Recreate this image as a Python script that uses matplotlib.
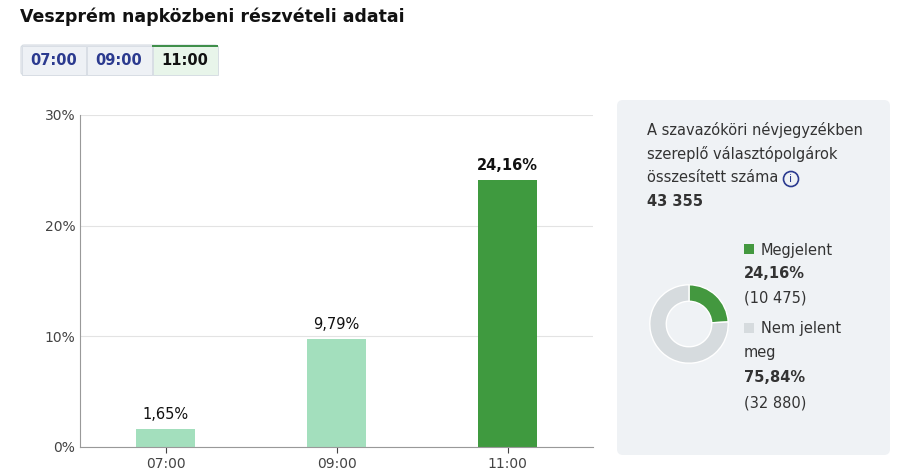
import matplotlib
matplotlib.use("Agg")
import matplotlib.pyplot as plt
from matplotlib.patches import FancyBboxPatch, Rectangle, Circle

categories = ["07:00", "09:00", "11:00"]
values = [1.65, 9.79, 24.16]
labels = ["1,65%", "9,79%", "24,16%"]
bar_colors = ["#a3dfbd", "#a3dfbd", "#3f9a3f"]
yticks = [0, 10, 20, 30]
ytick_labels = ["0%", "10%", "20%", "30%"]
donut_values = [24.16, 75.84]
donut_colors = ["#43983f", "#d6dbde"]

plt.rcParams['font.family'] = ['DejaVu Sans']
W, H = 900, 474
fig = plt.figure(figsize=(9, 4.74), dpi=100)
fig.patch.set_facecolor("white")

def fx(x): return x / W
def fy(y): return 1 - y / H

fig.text(fx(20), fy(17), "Veszprém napközbeni részvételi adatai", fontsize=12.5,
         fontweight="bold", va="center", ha="left", color="#111")

ov = fig.add_axes([0, 0, 1, 1], zorder=0)
ov.set_xlim(0, W); ov.set_ylim(H, 0); ov.axis("off")
btns = [(21, 86, "07:00", "#eef1f5", "#2b3a8f"), (86, 152, "09:00", "#eef1f5", "#2b3a8f"),
        (152, 218, "11:00", "#e8f5ea", "#111")]
ov.add_patch(FancyBboxPatch((21, 45), 197, 30, boxstyle="round,pad=0,rounding_size=3",
                            fc="#eef1f5", ec="#d5dbe2", lw=0.8))
for x0, x1, t, bg, c in btns:
    ov.add_patch(Rectangle((x0 + 0.5, 45.5), x1 - x0 - 1, 29, fc=bg, ec="#d5dbe2", lw=0.6))
    ov.text((x0 + x1) / 2, 60, t, ha="center", va="center", fontsize=10.5, fontweight="bold", color=c)
ov.add_patch(Rectangle((152, 44.5), 66, 2.5, fc="#3f8f4a", ec="none"))

ov.add_patch(FancyBboxPatch((617, 100), 273, 355, boxstyle="round,pad=0,rounding_size=6",
                            fc="#eff2f5", ec="none"))
tc = "#333"
fs = 10.5
for i, t in enumerate(["A szavazóköri névjegyzékben", "szereplő választópolgárok",
                       "összesített száma"]):
    ov.text(647, 130 + i * 24, t, fontsize=fs, color=tc, va="center")
ov.add_patch(Circle((791, 179), 7.5, fc="none", ec="#2b3a8f", lw=1.2))
ov.text(791, 179.5, "i", ha="center", va="center", fontsize=8, color="#2b3a8f")
ov.text(647, 202, "43 355", fontsize=fs, fontweight="bold", color=tc, va="center")

ov.add_patch(Rectangle((744, 244), 10, 10, fc="#43983f", ec="none"))
ov.text(761, 250, "Megjelent", fontsize=fs, color=tc, va="center")
ov.text(744, 274, "24,16%", fontsize=fs, fontweight="bold", color=tc, va="center")
ov.text(744, 298, "(10 475)", fontsize=fs, color=tc, va="center")
ov.add_patch(Rectangle((744, 323), 10, 10, fc="#d6dbde", ec="none"))
ov.text(761, 329, "Nem jelent", fontsize=fs, color=tc, va="center")
ov.text(744, 353, "meg", fontsize=fs, color=tc, va="center")
ov.text(744, 378, "75,84%", fontsize=fs, fontweight="bold", color=tc, va="center")
ov.text(744, 403, "(32 880)", fontsize=fs, color=tc, va="center")

dax = fig.add_axes([fx(649), fy(364), 80 / W, 80 / H], zorder=2)
dax.pie(donut_values, colors=donut_colors, startangle=90, counterclock=False,
        wedgeprops=dict(width=0.42, edgecolor="white", linewidth=1))
dax.set_xlim(-1.02, 1.02); dax.set_ylim(-1.02, 1.02)
dax.set_aspect("equal")

ax = fig.add_axes([fx(80), fy(447), 513 / W, 332 / H], zorder=1)
ax.set_facecolor("none")
x = list(range(len(categories)))
ax.bar(x, values, width=0.35, color=bar_colors)
ax.set_xlim(-0.5, 2.5); ax.set_ylim(0, 30)
ax.set_yticks(yticks); ax.set_yticklabels(ytick_labels)
ax.set_xticks(x); ax.set_xticklabels(categories)
ax.grid(axis="y", color="#e3e3e3", lw=0.8); ax.set_axisbelow(True)
for s in ["top", "right"]: ax.spines[s].set_visible(False)
ax.spines["left"].set_color("#999"); ax.spines["bottom"].set_color("#999")
ax.tick_params(colors="#444", labelsize=10, length=4)
ax.tick_params(axis="y", length=0)
for i, (v, l) in enumerate(zip(values, labels)):
    ax.text(i, v + 0.6, l, ha="center", va="bottom", fontsize=10.5,
            fontweight="bold" if i == 2 else "normal", color="#111")

fig.savefig("out.png", dpi=100, facecolor="white")
